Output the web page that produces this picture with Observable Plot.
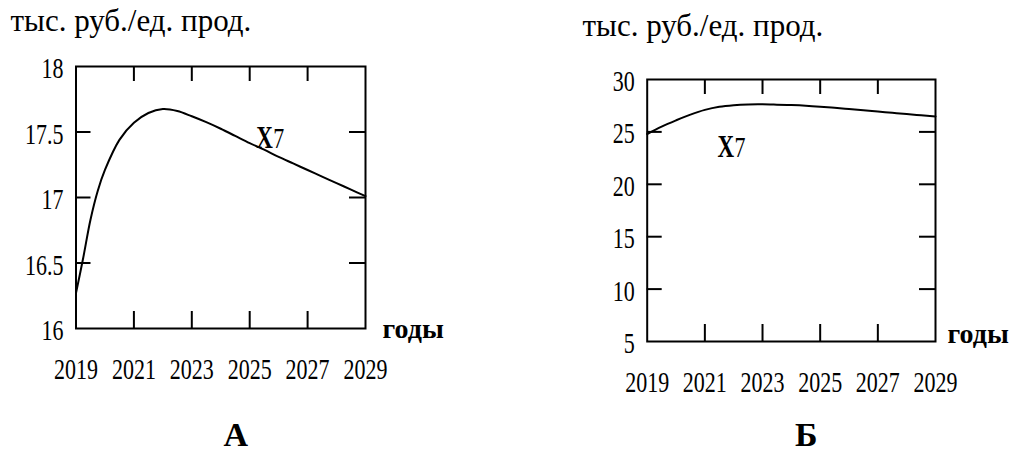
<!DOCTYPE html>
<html><head><meta charset="utf-8">
<script src="https://cdn.jsdelivr.net/npm/d3@7"></script>
<script src="https://cdn.jsdelivr.net/npm/@observablehq/plot@0.6"></script>
<style>
html,body{margin:0;padding:0;background:#fff;}
#wrap{position:relative;width:1013px;height:452px;overflow:hidden;background:#fff;}
#wrap svg{position:absolute;top:0;}
#wrap svg, #wrap svg text{font-family:"Liberation Serif","Times New Roman",serif !important;}
</style></head><body><div id="wrap"></div>
<script>
// ---- data ----
const yearsA = [2019, 2019.25, 2019.5, 2019.75, 2020, 2020.5, 2021, 2021.5, 2022, 2022.5, 2023, 2023.5, 2024, 2024.5, 2025, 2025.5, 2026, 2026.5, 2027, 2027.5, 2028, 2028.5, 2029];
const valuesA = [16.27, 16.54, 16.83, 17.05, 17.21, 17.44, 17.57, 17.645, 17.675, 17.66, 17.62, 17.575, 17.525, 17.47, 17.415, 17.365, 17.31, 17.26, 17.21, 17.16, 17.11, 17.06, 17.01];
const yearsB = [2019, 2019.5, 2020, 2020.5, 2021, 2021.5, 2022, 2022.5, 2023, 2023.5, 2024, 2024.5, 2025, 2025.5, 2026, 2026.5, 2027, 2027.5, 2028, 2028.5, 2029];
const valuesB = [24.8, 25.5, 26.1, 26.65, 27.1, 27.4, 27.55, 27.62, 27.63, 27.6, 27.56, 27.5, 27.41, 27.3, 27.18, 27.06, 26.94, 26.82, 26.7, 26.59, 26.48];
const xTicks = [2019, 2021, 2023, 2025, 2027, 2029];
const yTicksA = [16, 16.5, 17, 17.5, 18];
const yTicksB = [5, 10, 15, 20, 25, 30];
const unitLabel = "тыс. руб./ед. прод.";
const xLabel = "годы";
const seriesName = "X";
const seriesIndex = "7";
const panelNames = ["А", "Б"];
const annA = {year: 2025.23, value: 17.38};
const annB = {year: 2021.44, value: 22.65};

const STRETCH = 1.35;

function panel(o) {
  const data = o.xs.map((x, i) => ({year: x, value: o.ys[i]}));
  const inner = xTicks.slice(1, -1);
  const innerY = o.yTicks.slice(1, -1);
  const fw = o.width - o.ml - o.mr;
  const fh = o.height - o.mt - o.mb;
  const svg = Plot.plot({
    width: o.width, height: o.height,
    marginLeft: o.ml, marginRight: o.mr, marginTop: o.mt, marginBottom: o.mb,
    style: {background: "transparent", overflow: "visible", color: "black"},
    x: {domain: [2019, 2029]},
    y: {domain: [o.yTicks[0], o.yTicks[o.yTicks.length - 1]]},
    marks: [
      Plot.tickX(inner, {x: d => d, insetTop: fh - 17, stroke: "black", strokeWidth: 2}),
      Plot.tickX(inner, {x: d => d, insetBottom: fh - 15, stroke: "black", strokeWidth: 2}),
      Plot.tickY(innerY, {y: d => d, insetRight: fw - 15, stroke: "black", strokeWidth: 2}),
      Plot.tickY(innerY, {y: d => d, insetLeft: fw - 16, stroke: "black", strokeWidth: 2}),
      Plot.axisX(xTicks, {anchor: "bottom", tickSize: 0, tickPadding: 29, fontSize: 22, tickFormat: d => String(d), label: null, className: "stretch"}),
      Plot.axisY(o.yTicks, {anchor: "left", tickSize: 0, tickPadding: 12.5, fontSize: 22, dy: 2, tickFormat: d => String(d), label: null, className: "stretch"}),
      Plot.frame({stroke: "black", strokeWidth: 2}),
      Plot.line(data, {x: "year", y: "value", stroke: "black", strokeWidth: 2, curve: "catmull-rom"}),
      Plot.text([o.ann], {x: "year", y: "value", text: () => seriesName, fontWeight: "bold", fontSize: 23, textAnchor: "start", lineAnchor: "bottom", className: "stretch"}),
      Plot.text([o.ann], {x: "year", y: "value", text: () => seriesIndex, fontSize: 22, dx: 17, textAnchor: "start", lineAnchor: "bottom", className: "stretch"}),
      Plot.text([unitLabel], {frameAnchor: "top-left", text: d => d, dx: o.titleDx, dy: o.titleDy, textAnchor: "start", lineAnchor: "bottom", fontSize: 31}),
      Plot.text([xLabel], {frameAnchor: "bottom-right", text: d => d, dx: o.xlDx, dy: o.xlDy, textAnchor: "start", lineAnchor: "bottom", fontSize: 28, fontWeight: "bold"}),
      Plot.text([o.name], {frameAnchor: "bottom", text: d => d, dx: 15, dy: o.nameDy, lineAnchor: "bottom", fontSize: 34, fontWeight: "bold"})
    ]
  });
  // vertical stretch of the condensed-looking labels, as in the reference
  d3.select(svg).selectAll("g.stretch text").each(function () {
    const t = this.getAttribute("transform") || "";
    this.setAttribute("transform", t + ` scale(1,${STRETCH})`);
  });
  svg.style.left = o.left + "px";
  return svg;
}

const wrap = document.getElementById("wrap");
wrap.appendChild(panel({
  xs: yearsA, ys: valuesA, yTicks: yTicksA, ann: annA, name: panelNames[0],
  left: 0, width: 500, height: 452, ml: 75.5, mr: 135, mt: 66, mb: 124,
  titleDx: -65.5, titleDy: -36, xlDx: 17, xlDy: 9, nameDy: 117
}));
wrap.appendChild(panel({
  xs: yearsB, ys: valuesB, yTicks: yTicksB, ann: annB, name: panelNames[1],
  left: 500, width: 513, height: 452, ml: 146.7, mr: 78, mt: 79, mb: 111,
  titleDx: -64.7, titleDy: -44, xlDx: 12, xlDy: 1, nameDy: 104
}));
</script>
</body></html>
